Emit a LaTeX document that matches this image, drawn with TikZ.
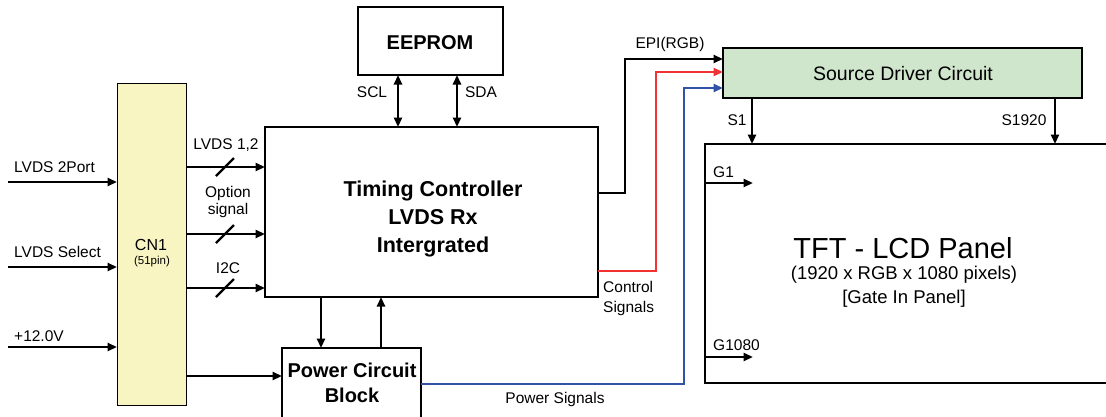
\documentclass[tikz,border=0pt]{standalone}
\usepackage{fontspec}
\setmainfont{Liberation Sans}
\usetikzlibrary{arrows.meta,calc}
\definecolor{cnfill}{HTML}{F8F5C3}
\definecolor{sdfill}{HTML}{CFE5CC}
\definecolor{redl}{HTML}{F23232}
\definecolor{bluel}{HTML}{3252A8}
\begin{document}
\begin{tikzpicture}[x=1pt,y=-1pt,
  box/.style={draw, inner sep=0pt, outer sep=0pt, anchor=north west},
  tip/.style={-{Triangle[length=9.5pt,width=8pt]}},
  arr/.style={line width=2.5pt, tip},
  darr/.style={line width=2.5pt, {Triangle[length=9.5pt,width=8pt]}-{Triangle[length=9.5pt,width=8pt]}},
  sig/.style={line width=2.4pt},
  slash/.style={line width=2.2pt},
  lbl/.style={font=\fontsize{15.5}{18}\selectfont, inner sep=0pt, anchor=base},
  lblw/.style={lbl, anchor=base west},
  bold/.style={font=\fontsize{20}{24}\selectfont\bfseries, inner sep=0pt, anchor=base},
  tcb/.style={font=\fontsize{21.5}{26}\selectfont\bfseries, inner sep=0pt, anchor=base},
  mid/.style={font=\fontsize{19.5}{24}\selectfont, inner sep=0pt, anchor=base},
  pan/.style={font=\fontsize{18.5}{22}\selectfont, inner sep=0pt, anchor=base}]
\useasboundingbox (0,0) rectangle (1106,416);
\clip (0,0) rectangle (1106,416);

% boxes
\node[box, fill=cnfill, line width=1pt, minimum width=69pt, minimum height=322pt] (cn1) at (117,83) {};
\node[box, line width=2.9pt, minimum width=333pt, minimum height=170pt] (tc) at (265,127) {};
\node[box, line width=1.4pt, minimum width=145pt, minimum height=68pt] (ee) at (358,7) {};
\node[box, line width=1.4pt, minimum width=139pt, minimum height=80pt] (pwr) at (282,348) {};
\node[box, fill=sdfill, line width=1.5pt, minimum width=359pt, minimum height=50pt] (sd) at (723,48) {};
\node[box, line width=1.4pt, minimum width=420pt, minimum height=239pt] (panel) at (705,144) {};

% box texts
\node[lbl, font=\fontsize{16}{18}\selectfont] (cn1t) at (151,250) {CN1};
\node[lbl, font=\fontsize{11.5}{13}\selectfont] (cn1p) at (152,264) {(51pin)};
\node[tcb] (tc1) at (433,196) {Timing Controller};
\node[tcb] (tc2) at (433,224) {LVDS Rx};
\node[tcb] (tc3) at (433,252) {Intergrated};
\node[bold] (eet) at (430,49) {EEPROM};
\node[bold] (pw1) at (352,377) {Power Circuit};
\node[bold] (pw2) at (352,402) {Block};
\node[mid] (sdt) at (903,80) {Source Driver Circuit};
\node[font=\fontsize{29}{34}\selectfont, inner sep=0pt, anchor=base] (pt1) at (903,258) {TFT - LCD Panel};
\node[pan] (pt2) at (904,279) {(1920 x RGB x 1080 pixels)};
\node[pan] (pt3) at (904,303) {[Gate In Panel]};

% input signals
\coordinate (in1) at (8,182);
\coordinate (in2) at (8,267);
\coordinate (in3) at (8,347);
\draw[arr] (in1) -- (cn1.west |- in1);
\draw[arr] (in2) -- (cn1.west |- in2);
\draw[arr] (in3) -- (cn1.west |- in3);
\node[lblw] (lin1) at (14,172) {LVDS 2Port};
\node[lblw] (lin2) at (14,257) {LVDS Select};
\node[lblw] (lin3) at (14,341) {+12.0V};

% CN1 -> TC buses
\coordinate (b1) at (200,167);
\coordinate (b2) at (200,234);
\coordinate (b3) at (200,288);
\draw[arr] (cn1.east |- b1) -- (tc.west |- b1);
\draw[arr] (cn1.east |- b2) -- (tc.west |- b2);
\draw[arr] (cn1.east |- b3) -- (tc.west |- b3);
\draw[slash] (216,176) -- (234,158);
\draw[slash] (216,243) -- (234,225);
\draw[slash] (216,297) -- (234,279);
\node[lbl] (lb1) at (226,149) {LVDS 1,2};
\node[lbl] (lb2a) at (228,197) {Option};
\node[lbl] (lb2b) at (228,214) {signal};
\node[lbl] (lb3) at (228,273) {I2C};

% CN1 -> power
\coordinate (pc) at (200,376);
\draw[arr] (cn1.east |- pc) -- (pwr.west |- pc);

% TC <-> power
\coordinate (dx) at (321,0);
\coordinate (ux) at (381,0);
\draw[arr] (tc.south -| dx) -- (pwr.north -| dx);
\draw[arr] (pwr.north -| ux) -- (tc.south -| ux);

% EEPROM <-> TC
\coordinate (sclx) at (398,0);
\coordinate (sdax) at (457,0);
\draw[darr] (ee.south -| sclx) -- (tc.north -| sclx);
\draw[darr] (ee.south -| sdax) -- (tc.north -| sdax);
\node[lbl] (scl) at (372,97) {SCL};
\node[lbl] (sda) at (481,97) {SDA};

% EPI (black)
\coordinate (epi1) at (598,193);
\coordinate (epi2) at (625,59);
\draw[line width=2.5pt, tip] (tc.east |- epi1) -| (epi2) -- (sd.west |- epi2);
\node[lbl] (epil) at (670,48) {EPI(RGB)};

% Control (red)
\coordinate (c1) at (598,271);
\coordinate (c2) at (656,72);
\draw[sig, redl, tip] (tc.east |- c1) -| (c2) -- (sd.west |- c2);
\node[lblw] (ctl1) at (603,292) {Control};
\node[lblw] (ctl2) at (603,312) {Signals};

% Power signals (blue)
\coordinate (p1) at (421,384);
\coordinate (p2) at (684,88);
\draw[sig, bluel, tip] (pwr.east |- p1) -| (p2) -- (sd.west |- p2);
\node[lbl] (pwl) at (555,403) {Power Signals};

% Source driver -> panel
\coordinate (s1x) at (752,0);
\coordinate (s2x) at (1055,0);
\draw[arr] (sd.south -| s1x) -- (panel.north -| s1x);
\draw[arr] (sd.south -| s2x) -- (panel.north -| s2x);
\node[lbl] (s1) at (737,125) {S1};
\node[lbl] (s2) at (1024,125) {S1920};

% gate lines
\coordinate (g1) at (753,183);
\coordinate (g2) at (753,357);
\draw[arr] (panel.west |- g1) -- (g1);
\draw[arr] (panel.west |- g2) -- (g2);
\node[lblw] (g1l) at (713,177) {G1};
\node[lblw] (g2l) at (713,350) {G1080};
\end{tikzpicture}
\end{document}
